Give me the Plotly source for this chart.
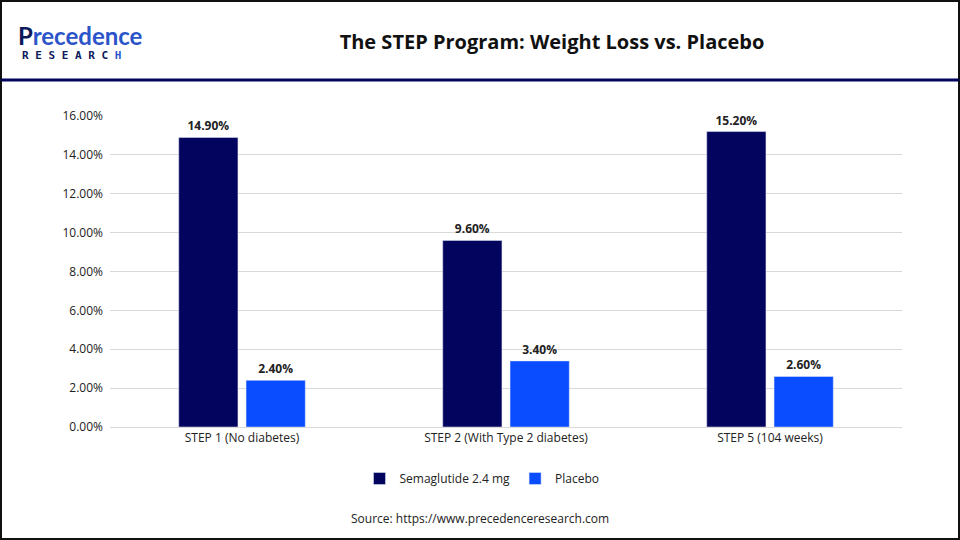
import plotly.graph_objects as go

categories = ["STEP 1 (No diabetes)", "STEP 2 (With Type 2 diabetes)", "STEP 5 (104 weeks)"]
semaglutide = [14.9, 9.6, 15.2]
placebo = [2.4, 3.4, 2.6]
tick_vals = [0, 2, 4, 6, 8, 10, 12, 14, 16]
tick_text = [f"{v:.2f}%" for v in tick_vals]

font = "Open Sans"
W, H = 960, 540
L, R, T, B = 110, 58, 116, 113
pw, ph = W - L - R, H - T - B


def px_x(x):
    return (x - L) / pw


def px_y(y):
    return (H - B - y) / ph


fig = go.Figure()
fig.add_trace(go.Bar(
    x=categories, y=semaglutide, name="Semaglutide 2.4 mg",
    marker_color="#03045e",
    text=[f"<b>{v:.2f}%</b>" for v in semaglutide], textposition="outside",
    textfont=dict(size=12, color="#222"),
    cliponaxis=False,
))
fig.add_trace(go.Bar(
    x=categories, y=placebo, name="Placebo",
    marker_color="#0a4cff",
    text=[f"<b>{v:.2f}%</b>" for v in placebo], textposition="outside",
    textfont=dict(size=12, color="#222"),
    cliponaxis=False,
))

fig.update_layout(
    width=W, height=H,
    paper_bgcolor="white", plot_bgcolor="white",
    font=dict(family=font, size=12, color="#222"),
    barmode="group", bargap=0.49, bargroupgap=0.12,
    margin=dict(l=L, r=R, t=T, b=B),
    xaxis=dict(showline=True, linecolor="#d9d9d9", tickfont=dict(size=12)),
    yaxis=dict(range=[0, 16], tickvals=tick_vals, ticktext=tick_text,
               gridcolor="#d9d9d9", zeroline=False, tickfont=dict(size=12),
               ticklabelstandoff=6),
    legend=dict(orientation="h", x=px_x(482), xanchor="center", y=px_y(464), yanchor="top",
                font=dict(size=12)),
    title=dict(text="<b>The STEP Program: Weight Loss vs. Placebo</b>",
               x=552 / W, xanchor="center", y=1 - 42 / H, yanchor="middle",
               font=dict(size=20, family=font, color="#111")),
    shapes=[
        dict(type="rect", xref="paper", yref="paper", x0=px_x(1), x1=px_x(W - 1),
             y0=px_y(H - 1), y1=px_y(1), line=dict(color="#111", width=2)),
        dict(type="line", xref="paper", yref="paper", x0=px_x(1), x1=px_x(W - 1),
             y0=px_y(80), y1=px_y(80), line=dict(color="#03045e", width=3)),
    ],
    annotations=[
        dict(text="Source: https://www.precedenceresearch.com", xref="paper", yref="paper",
             x=px_x(480), y=px_y(518), showarrow=False, font=dict(size=12, color="#222"),
             xanchor="center", yanchor="middle"),
        dict(text="<b><span style='color:#0c1a5b'>P</span><span style='color:#2b54c9'>recedence</span></b>",
             xref="paper", yref="paper", x=px_x(16), y=px_y(36), showarrow=False,
             xanchor="left", yanchor="middle", font=dict(size=24, family="Lato")),
        dict(text="<b>R E S E A R C <span style='color:#2b54c9'>H</span></b>",
             xref="paper", yref="paper", x=px_x(20), y=px_y(56), showarrow=False,
             xanchor="left", yanchor="middle", font=dict(size=11, family="DejaVu Sans Mono", color="#0c1a5b")),
    ],
)

fig.write_html("out.html", config={"displayModeBar": False},
               post_script="document.body.style.margin='0';document.body.style.overflow='hidden';")
